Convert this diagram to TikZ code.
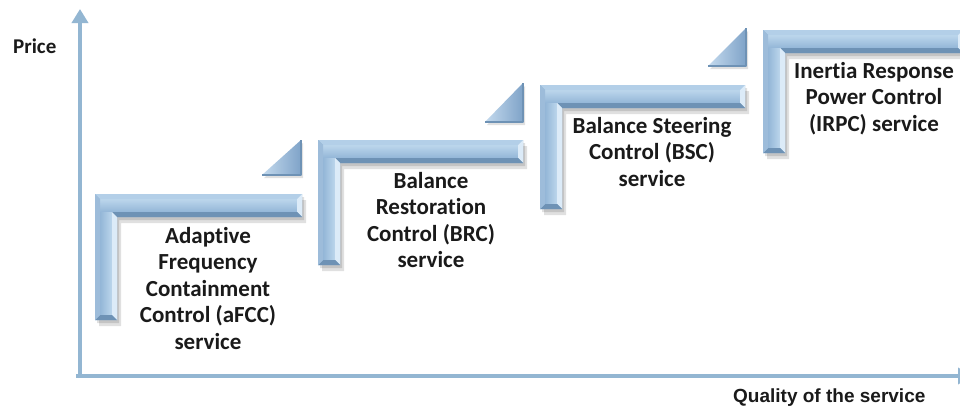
\documentclass[tikz,border=0pt]{standalone}
\usepackage{fontspec}
\setmainfont{Carlito}[Ligatures={NoCommon}]
\newfontfamily\arialfont{Liberation Sans}
\usetikzlibrary{arrows.meta}
\definecolor{axisblue}{HTML}{93B6D2}
\definecolor{baseblue}{HTML}{8DB2D4}
\definecolor{topfacet}{HTML}{B3CFE8}
\definecolor{facelight}{HTML}{BCD6EC}
\definecolor{facemid}{HTML}{93B6D7}
\definecolor{darkfacet}{HTML}{6E92B5}
\definecolor{lightfacet}{HTML}{DCEBF8}
\definecolor{leftfacet}{HTML}{9DBCDA}
\definecolor{triL}{HTML}{C4DAEE}
\definecolor{triR}{HTML}{7FA3C8}
\definecolor{textc}{HTML}{1A1A1A}
\tikzset{
  shadowfill/.style={fill=black,opacity=0.12},
  steptext/.style={font=\fontsize{23}{26.5}\selectfont\bfseries, text=textc, align=center, inner sep=0pt, anchor=north},
  axisline/.style={draw=axisblue, line width=4.5pt, -{Triangle[length=14pt,width=16pt]}}
}
% #1 L, #2 T, #3 R, #4 B
\newcommand\bevelstep[4]{%
  \pgfmathsetmacro\bxLi{#1+5}%
  \pgfmathsetmacro\bxRi{#3-5}%
  \pgfmathsetmacro\byTi{#2+5}%
  \pgfmathsetmacro\byH{#2+23}%
  \pgfmathsetmacro\byHi{#2+18}%
  \pgfmathsetmacro\bxV{#1+22}%
  \pgfmathsetmacro\bxVi{#1+17}%
  \pgfmathsetmacro\byBi{#4-5}%
  \fill[shadowfill,shift={(2,3)}] (#1,#2) -- (#3,#2) -- (#3,\byH) -- (\bxV,\byH) -- (\bxV,#4) -- (#1,#4) -- cycle;
  \fill[shadowfill,shift={(4,6)}] (#1,#2) -- (#3,#2) -- (#3,\byH) -- (\bxV,\byH) -- (\bxV,#4) -- (#1,#4) -- cycle;
  \fill[baseblue] (#1,#2) -- (#3,#2) -- (#3,\byH) -- (\bxV,\byH) -- (\bxV,#4) -- (#1,#4) -- cycle;
  % faces
  \shade[top color=facelight,bottom color=facemid] (\bxLi,\byTi) rectangle (\bxRi,\byHi);
  \shade[left color=facemid,right color=facelight] (\bxLi,\byHi) rectangle (\bxVi,\byBi);
  % facets
  \fill[topfacet] (#1,#2) -- (#3,#2) -- (\bxRi,\byTi) -- (\bxLi,\byTi) -- cycle;
  \fill[lightfacet] (#3,#2) -- (#3,\byH) -- (\bxRi,\byHi) -- (\bxRi,\byTi) -- cycle;
  \fill[darkfacet] (#3,\byH) -- (\bxV,\byH) -- (\bxVi,\byHi) -- (\bxRi,\byHi) -- cycle;
  \fill[lightfacet] (\bxV,\byH) -- (\bxV,#4) -- (\bxVi,\byBi) -- (\bxVi,\byHi) -- cycle;
  \fill[darkfacet] (\bxV,#4) -- (#1,#4) -- (\bxLi,\byBi) -- (\bxVi,\byBi) -- cycle;
  \fill[leftfacet] (#1,#4) -- (#1,#2) -- (\bxLi,\byTi) -- (\bxLi,\byBi) -- cycle;
}
% #1 x1, #2 x2, #3 y bottom, #4 y top
\newcommand\beveltri[4]{%
  \fill[shadowfill,shift={(2,3)}] (#1,#3) -- (#2,#3) -- (#2,#4) -- cycle;
  \shade[left color=triL,right color=triR] (#1,#3) -- (#2,#3) -- (#2,#4) -- cycle;
  \draw[darkfacet,line width=1.5pt,line join=round] (#1,#3) -- (#2,#3) -- (#2,#4);
}
\begin{document}
\begin{tikzpicture}[x=1pt,y=-1pt]
\useasboundingbox (0,0) rectangle (960,407);
\fill[white] (0,0) rectangle (960,407);
% axes
\coordinate (origin) at (80,376);
\coordinate (ytop) at (80,9);
\coordinate (xend) at (972,376);
\coordinate (xstart) at (76,376);
\draw[axisline] (xstart) -- (xend);
\draw[axisline] (80,378) -- (ytop);
\node[font=\fontsize{21}{24}\selectfont\bfseries, text=textc, anchor=base west, inner sep=0pt] (price) at (13,53) {Price};
\node[font=\arialfont\fontsize{19}{22}\selectfont\bfseries, text=textc, anchor=base west, inner sep=0pt] (quality) at (733,402) {Quality of the service};
% steps
\bevelstep{95}{194}{302}{320}
\bevelstep{318}{140}{523}{265}
\bevelstep{540}{85}{745}{209}
\bevelstep{763}{30}{963}{153}
\beveltri{262}{301}{175}{140}
\beveltri{485}{523}{122}{83}
\beveltri{708}{746}{66}{28}
% texts
\node[steptext] (afcc) at (208,227) {Adaptive\\Frequency\\Containment\\Control (aFCC)\\service};
\node[steptext] (brc) at (431,172) {Balance\\Restoration\\Control (BRC)\\service};
\node[steptext] (bsc) at (652,117) {Balance Steering\\Control (BSC)\\service};
\node[steptext] (irpc) at (874,62) {Inertia Response\\Power Control\\(IRPC) service};
\end{tikzpicture}
\end{document}
